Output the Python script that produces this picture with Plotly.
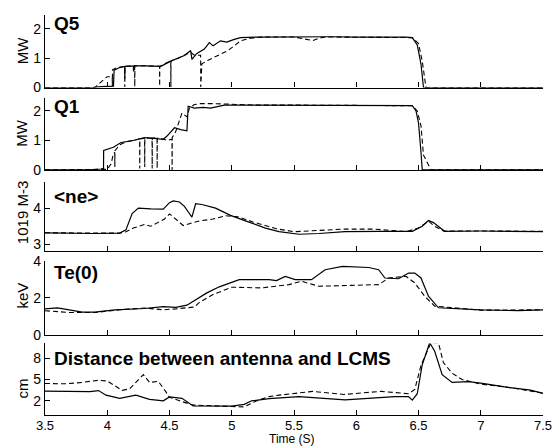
import plotly.graph_objects as go

# ---------------- data ----------------
time_ticks = [3.5, 4, 4.5, 5, 5.5, 6, 6.5, 7, 7.5]
time_tick_text = ["3.5", "4", "4.5", "5", "5.5", "6", "6.5", "7", "7.5"]

# Q5 power (MW)
q5_solid_t = [3.5, 3.88, 3.95, 4.05, 4.055, 4.1, 4.14, 4.141, 4.142, 4.21, 4.211, 4.212,
              4.3, 4.43, 4.51, 4.56, 4.62, 4.67, 4.68, 4.72, 4.78, 4.82, 4.85, 4.91, 4.96,
              5.02, 5.07, 5.2, 5.4, 5.6, 5.8, 6.0, 6.2, 6.4, 6.45, 6.49, 6.52, 6.54, 6.6, 7.5]
q5_solid_v = [0, 0, 0.03, 0.05, 0.59, 0.68, 0.72, 0.3, 0.72, 0.74, 0.55, 0.74,
              0.74, 0.72, 0.9, 0.98, 1.09, 1.26, 0.96, 1.16, 1.31, 1.53, 1.42, 1.59, 1.55,
              1.64, 1.7, 1.72, 1.73, 1.72, 1.73, 1.72, 1.73, 1.72, 1.7, 1.45, 0.8, 0.0, 0.0, 0.0]
q5_dash_t = [3.5, 3.9, 3.98, 4.0, 4.04, 4.041, 4.042, 4.08, 4.12, 4.14, 4.141, 4.142,
             4.22, 4.221, 4.222, 4.3, 4.42, 4.421, 4.422, 4.48, 4.51, 4.511, 4.512, 4.56,
             4.62, 4.67, 4.7, 4.75, 4.751, 4.76, 4.81, 4.86, 4.91, 4.97, 5.02, 5.07, 5.15,
             5.25, 5.5, 5.6, 5.65, 5.7, 5.75, 5.8, 6.0, 6.3, 6.45, 6.5, 6.53, 6.56, 6.6, 7.5]
q5_dash_v = [0, 0, 0.3, 0.37, 0.37, 0.05, 0.6, 0.68, 0.72, 0.72, 0.02, 0.72,
             0.74, 0.03, 0.74, 0.74, 0.72, 0.05, 0.72, 0.85, 0.9, 0.02, 0.9, 0.98,
             1.09, 1.2, 1.1, 1.1, 0.02, 0.81, 0.93, 1.04, 1.15, 1.26, 1.42, 1.59, 1.68,
             1.72, 1.72, 1.65, 1.6, 1.68, 1.72, 1.72, 1.72, 1.72, 1.7, 1.5, 0.9, 0.0, 0.0, 0.0]

# Q1 power (MW)
q1_solid_t = [3.5, 3.85, 3.95, 3.97, 3.971, 4.05, 4.11, 4.2, 4.3, 4.45, 4.48, 4.54, 4.59,
              4.64, 4.65, 4.7, 4.77, 4.83, 4.94, 5.0, 5.2, 5.4, 5.6, 5.8, 6.0, 6.2, 6.4,
              6.45, 6.48, 6.5, 6.52, 6.53, 6.6, 7.5]
q1_solid_v = [0, 0, 0.03, 0.05, 0.66, 0.77, 0.93, 0.99, 1.1, 1.04, 1.15, 1.43, 1.37,
              1.33, 2.16, 2.1, 2.12, 2.1, 2.2, 2.2, 2.18, 2.2, 2.19, 2.2, 2.2, 2.19, 2.2,
              2.18, 2.0, 1.6, 0.6, 0.0, 0.0, 0.0]
q1_dash_t = [3.5, 3.95, 4.0, 4.03, 4.05, 4.06, 4.061, 4.062, 4.1, 4.15, 4.26, 4.261, 4.262,
             4.3, 4.301, 4.302, 4.36, 4.361, 4.362, 4.4, 4.401, 4.402, 4.45, 4.48, 4.52,
             4.521, 4.522, 4.55, 4.59, 4.6, 4.64, 4.66, 4.7, 4.75, 4.85, 5.0, 5.2, 5.5, 5.8,
             6.1, 6.4, 6.45, 6.49, 6.52, 6.54, 6.6, 7.5]
q1_dash_v = [0, 0, 0.02, 0.2, 0.55, 0.6, 0.1, 0.65, 0.85, 0.95, 1.05, 0.05, 1.05,
             1.08, 0.1, 1.08, 1.08, 0.05, 1.08, 1.1, 0.05, 1.08, 1.05, 1.0, 1.05,
             0.0, 1.1, 1.3, 1.82, 1.93, 1.8, 2.1, 2.22, 2.25, 2.25, 2.22, 2.2, 2.2, 2.2,
             2.2, 2.2, 2.18, 2.0, 1.5, 0.5, 0.0, 0.0]

# line-averaged density (1e19 m-3)
ne_solid_t = [3.5, 3.7, 3.9, 4.1, 4.15, 4.2, 4.25, 4.35, 4.45, 4.5, 4.53, 4.58, 4.62, 4.65,
              4.68, 4.71, 4.76, 4.87, 4.99, 5.11, 5.27, 5.38, 5.54, 5.7, 5.91, 6.2, 6.45,
              6.53, 6.58, 6.62, 6.66, 6.71, 7.0, 7.3, 7.5]
ne_solid_v = [3.32, 3.3, 3.3, 3.31, 3.4, 3.85, 4.0, 3.98, 3.97, 4.15, 4.2, 4.17, 4.05, 3.9,
              3.75, 4.12, 4.1, 4.0, 3.8, 3.65, 3.45, 3.35, 3.28, 3.3, 3.35, 3.36, 3.36,
              3.5, 3.66, 3.6, 3.5, 3.36, 3.37, 3.36, 3.35]
ne_dash_t = [3.5, 3.9, 4.1, 4.15, 4.21, 4.3, 4.35, 4.46, 4.5, 4.55, 4.61, 4.73, 4.85, 4.95,
             5.05, 5.17, 5.36, 5.5, 5.9, 6.15, 6.4, 6.5, 6.58, 6.63, 6.7, 7.0, 7.5]
ne_dash_v = [3.32, 3.3, 3.31, 3.35, 3.45, 3.55, 3.5, 3.7, 3.84, 3.7, 3.52, 3.64, 3.7, 3.79,
             3.76, 3.62, 3.43, 3.35, 3.42, 3.42, 3.35, 3.45, 3.64, 3.5, 3.37, 3.37, 3.36]

# central electron temperature (keV)
te_solid_t = [3.5, 3.6, 3.8, 3.9, 4.06, 4.3, 4.45, 4.55, 4.64, 4.8, 4.9, 5.06, 5.3, 5.36,
              5.43, 5.51, 5.64, 5.75, 5.89, 6.1, 6.18, 6.23, 6.34, 6.42, 6.47, 6.52, 6.58,
              6.66, 7.0, 7.3, 7.5]
te_solid_v = [1.4, 1.45, 1.22, 1.22, 1.35, 1.42, 1.52, 1.48, 1.6, 2.27, 2.6, 2.99, 2.99, 2.94,
              3.17, 2.99, 2.99, 3.53, 3.71, 3.65, 3.53, 3.08, 3.04, 3.35, 3.35, 3.08, 2.09,
              1.46, 1.35, 1.3, 1.35]
te_dash_t = [3.5, 3.7, 3.9, 4.1, 4.3, 4.45, 4.55, 4.7, 4.74, 4.85, 5.0, 5.24, 5.46, 5.56,
             5.7, 6.18, 6.26, 6.4, 6.47, 6.55, 6.63, 7.0, 7.5]
te_dash_v = [1.3, 1.2, 1.2, 1.35, 1.45, 1.35, 1.4, 1.5, 1.75, 2.18, 2.58, 2.54, 2.72, 2.9,
             2.63, 2.72, 3.08, 3.17, 2.81, 2.09, 1.55, 1.33, 1.35]

# antenna - LCMS distance (cm)
d_solid_t = [3.5, 3.86, 3.93, 3.99, 4.1, 4.23, 4.34, 4.45, 4.5, 4.6, 4.69, 5.0, 5.1, 5.16,
             5.3, 5.38, 5.54, 5.91, 6.31, 6.42, 6.45, 6.49, 6.53, 6.59, 6.63, 6.69, 6.77,
             6.9, 7.0, 7.22, 7.4, 7.5]
d_solid_v = [3.37, 3.3, 3.45, 2.8, 2.35, 2.8, 2.2, 2.0, 2.55, 2.35, 1.27, 1.25, 1.5, 2.0,
             2.3, 2.4, 2.6, 2.13, 2.6, 2.6, 2.1, 3.0, 7.1, 10.2, 9.0, 5.7, 4.6,
             4.7, 4.5, 3.9, 3.5, 3.06]
d_dash_t = [3.5, 3.67, 3.8, 3.93, 4.0, 4.12, 4.18, 4.29, 4.34, 4.41, 4.47, 4.5, 4.6, 4.69,
            5.0, 5.1, 5.2, 5.3, 5.38, 5.65, 5.9, 6.2, 6.42, 6.47, 6.52, 6.6, 6.66, 6.7,
            6.77, 6.85, 7.0, 7.22, 7.5]
d_dash_v = [4.45, 4.4, 4.6, 4.9, 4.8, 3.47, 3.7, 5.7, 4.6, 4.75, 3.3, 2.5, 1.9, 1.4,
            1.2, 1.15, 2.0, 2.6, 2.8, 3.33, 2.9, 3.33, 3.0, 3.6, 7.0, 10.2, 10.2, 7.4,
            5.9, 5.0, 4.36, 3.9, 3.1]

panel_titles = ["Q5", "Q1", "<ne>", "Te(0)", "Distance between antenna and LCMS"]
y_titles = ["MW", "MW", "1019 M-3", "keV", "cm"]
y_ranges = [[0, 2.47], [0, 2.43], [2.81, 4.73], [0, 4.0], [0, 10.1]]
y_ticks = [[0, 1, 2], [0, 1, 2], [3, 4], [0, 2, 4], [2, 5, 8]]
x_title = "Time (S)"

# ---------------- layout geometry (pixels) ----------------
W, H = 559, 448
ML, MR, MT, MB = 45, 14, 7, 33
PH = H - MT - MB
panel_px = [(7, 81), (92, 165), (177, 248), (258, 333), (342, 415)]  # top, bottom


def py2paper(py):
    return (H - MB - py) / PH


def px2paper(px):
    return (px - ML) / (W - ML - MR)


series = [
    (q5_solid_t, q5_solid_v, q5_dash_t, q5_dash_v),
    (q1_solid_t, q1_solid_v, q1_dash_t, q1_dash_v),
    (ne_solid_t, ne_solid_v, ne_dash_t, ne_dash_v),
    (te_solid_t, te_solid_v, te_dash_t, te_dash_v),
    (d_solid_t, d_solid_v, d_dash_t, d_dash_v),
]

fig = go.Figure()
FONT = "Liberation Sans, Arial, Helvetica, sans-serif"

for i, (st, sv, dt, dv) in enumerate(series):
    xa = "x" if i == 0 else f"x{i+1}"
    ya = "y" if i == 0 else f"y{i+1}"
    fig.add_trace(go.Scatter(x=dt, y=dv, mode="lines", xaxis=xa, yaxis=ya,
                             line=dict(color="black", width=1.1, dash="5px,3px"),
                             showlegend=False, hoverinfo="skip"))
    fig.add_trace(go.Scatter(x=st, y=sv, mode="lines", xaxis=xa, yaxis=ya,
                             line=dict(color="black", width=1.2),
                             showlegend=False, hoverinfo="skip"))

layout = dict(
    width=W, height=H,
    margin=dict(l=ML, r=MR, t=MT, b=MB, pad=0),
    paper_bgcolor="white", plot_bgcolor="white",
    font=dict(family=FONT, size=14, color="black"),
    showlegend=False,
)

annotations = []
for i in range(5):
    top, bot = panel_px[i]
    xk = "xaxis" if i == 0 else f"xaxis{i+1}"
    yk = "yaxis" if i == 0 else f"yaxis{i+1}"
    ya = "y" if i == 0 else f"y{i+1}"
    layout[xk] = dict(
        domain=[0, 1], anchor=ya, range=[3.5, 7.5],
        showline=True, linecolor="black", linewidth=1.2,
        ticks="inside", ticklen=5, tickwidth=1, tickcolor="black",
        tickvals=time_ticks, ticktext=time_tick_text,
        showticklabels=(i == 4), showgrid=False, zeroline=False,
        tickfont=dict(size=13, family=FONT), ticklabelstandoff=-2,
    )
    layout[yk] = dict(
        domain=[py2paper(bot), py2paper(top)], anchor="x" if i == 0 else f"x{i+1}",
        range=y_ranges[i],
        showline=True, linecolor="black", linewidth=1.2,
        ticks="inside", ticklen=5, tickwidth=1, tickcolor="black",
        tickvals=y_ticks[i], ticktext=[str(v) for v in y_ticks[i]],
        showgrid=False, zeroline=False,
        tickfont=dict(size=14, family=FONT),
    )

title_y_px = [16, 100, 192, 270, 357]
ytitle_y_px = [44, 128, 209, 293, 388]
for i in range(5):
    annotations.append(dict(
        text=panel_titles[i], xref="paper", yref="paper",
        x=px2paper(52), y=py2paper(title_y_px[i]), xanchor="left", yanchor="middle",
        showarrow=False, font=dict(size=19, family=FONT, color="black", weight="bold"),
    ))
    annotations.append(dict(
        text=y_titles[i], xref="paper", yref="paper", textangle=-90,
        x=px2paper(22), y=py2paper(ytitle_y_px[i]), xanchor="center", yanchor="middle",
        showarrow=False, font=dict(size=15, family=FONT, color="black"),
    ))
annotations.append(dict(
    text=x_title, xref="paper", yref="paper",
    x=px2paper(293), y=py2paper(448), xanchor="center", yanchor="bottom",
    showarrow=False, borderpad=0,
    font=dict(size=12, family=FONT, color="black"),
))
layout["annotations"] = annotations

fig.update_layout(**layout)
fig.write_html("out.html")
